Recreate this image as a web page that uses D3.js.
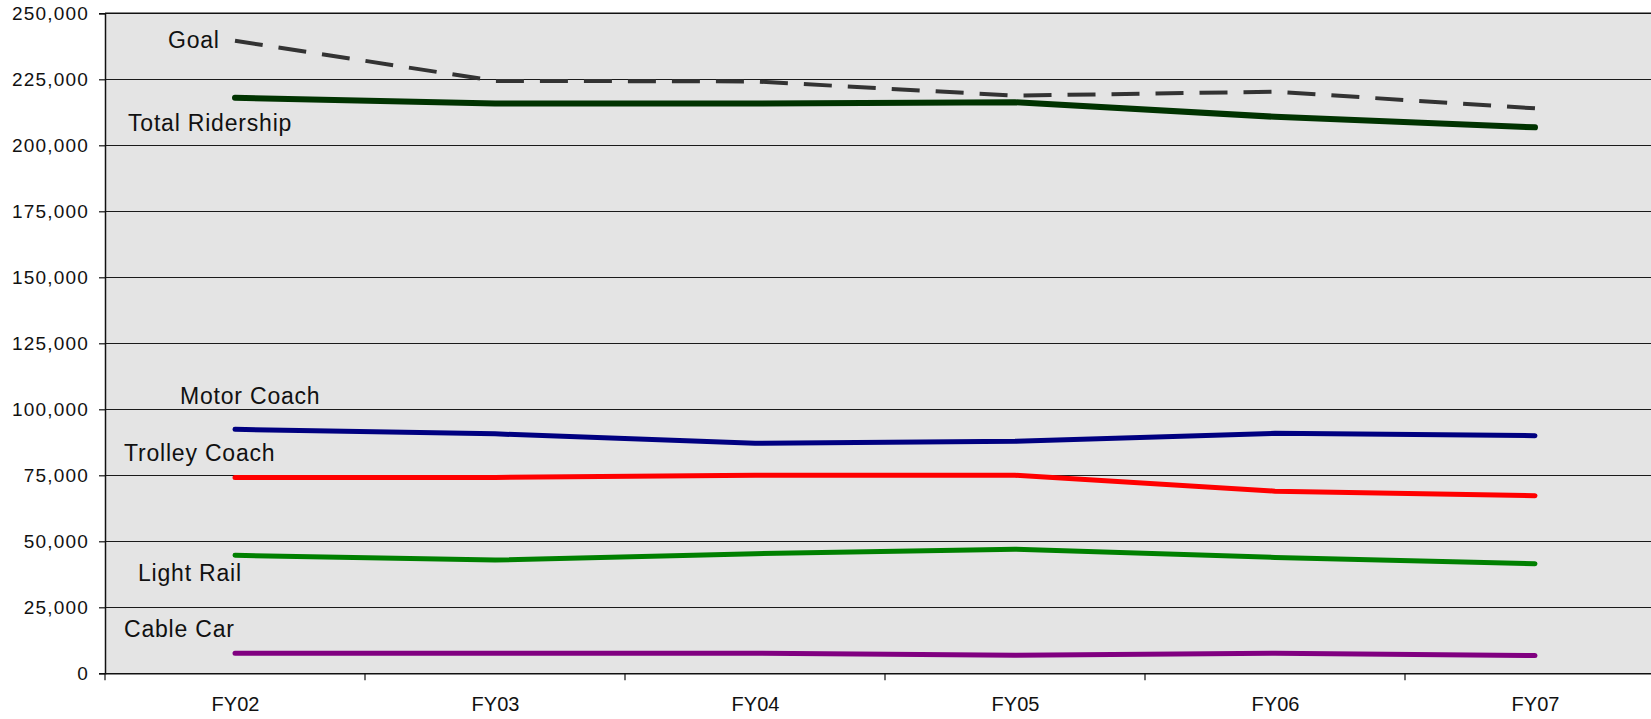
<!DOCTYPE html>
<html>
<head>
<meta charset="utf-8">
<script src="https://cdn.jsdelivr.net/npm/d3@7"></script>
<style>
  html, body { margin: 0; padding: 0; background: #fff; }
  svg { display: block; overflow: hidden; }
  text { font-family: "Liberation Sans", Arial, sans-serif; fill: #111; }
</style>
</head>
<body>
<svg id="chart" width="1651" height="719"></svg>
<script>
// Fiscal years on the x axis
const categories = ["FY02", "FY03", "FY04", "FY05", "FY06", "FY07"];

// Weekday ridership by mode
const goal      = [239600, 224400, 224200, 218800, 220300, 214000];
const total     = [218000, 215800, 215800, 216300, 210800, 206800];
const motor     = [92400, 90700, 87100, 87900, 90900, 90000];
const trolley   = [74200, 74200, 75000, 75000, 69000, 67300];
const lightRail = [44700, 42900, 45300, 47000, 43900, 41500];
const cableCar  = [7600, 7600, 7600, 6800, 7600, 6700];

// Y axis ticks
const yTicks = [0, 25000, 50000, 75000, 100000, 125000, 150000, 175000, 200000, 225000, 250000];

const series = [
  { name: "Goal",            values: goal,      color: "#333333", width: 4,   dash: "28,16", lx: 168, ly: 48 },
  { name: "Total Ridership", values: total,     color: "#003300", width: 6,   dash: null,    lx: 128, ly: 131 },
  { name: "Motor Coach",     values: motor,     color: "#000080", width: 5,   dash: null,    lx: 180, ly: 404 },
  { name: "Trolley Coach",   values: trolley,   color: "#ff0000", width: 5,   dash: null,    lx: 124, ly: 461 },
  { name: "Light Rail",      values: lightRail, color: "#008000", width: 5,   dash: null,    lx: 138, ly: 581 },
  { name: "Cable Car",       values: cableCar,  color: "#800080", width: 5,   dash: null,    lx: 124, ly: 637 }
];

const svg = d3.select("#chart");
const plot = { left: 105, right: 1665, top: 13.3, bottom: 673.3 };

const x = d3.scalePoint().domain(categories).range([plot.left, plot.right]).padding(0.5);
const xBand = d3.scaleBand().domain(categories).range([plot.left, plot.right]);
const y = d3.scaleLinear().domain([0, 250000]).range([plot.bottom, plot.top]);

// plot area background
svg.append("rect")
  .attr("x", plot.left).attr("y", plot.top)
  .attr("width", plot.right - plot.left).attr("height", plot.bottom - plot.top)
  .attr("fill", "#e4e4e4");

// horizontal gridlines
svg.append("g")
  .selectAll("line")
  .data(yTicks)
  .join("line")
  .attr("x1", plot.left).attr("x2", plot.right)
  .attr("y1", d => y(d)).attr("y2", d => y(d))
  .attr("stroke", "#1a1a1a").attr("stroke-width", 1.2)
  .attr("shape-rendering", "crispEdges");

// y axis
const yAxis = svg.append("g")
  .attr("transform", `translate(${plot.left},0)`)
  .call(d3.axisLeft(y).tickValues(yTicks).tickFormat(d3.format(",")).tickSize(6).tickPadding(10));
yAxis.select(".domain").attr("stroke", "#111").attr("stroke-width", 1.5);
yAxis.selectAll(".tick line").attr("stroke", "#111").attr("stroke-width", 1.2);
yAxis.selectAll(".tick text")
  .attr("font-size", 19).attr("letter-spacing", "1.2px")
  .style("font-family", "'Liberation Sans', Arial, sans-serif").attr("fill", "#111");

// x axis with ticks on band boundaries
const xAxis = svg.append("g")
  .attr("transform", `translate(0,${plot.bottom})`)
  .call(d3.axisBottom(x).tickSize(0).tickPadding(24));
xAxis.select(".domain").attr("stroke", "#111").attr("stroke-width", 1.5);
xAxis.selectAll(".tick text")
  .attr("font-size", 20)
  .style("font-family", "'Liberation Sans', Arial, sans-serif").attr("fill", "#111");
xAxis.selectAll(".bound")
  .data(categories.map(c => xBand(c)))
  .join("line")
  .attr("class", "bound")
  .attr("x1", d => d).attr("x2", d => d)
  .attr("y1", 0).attr("y2", 7)
  .attr("stroke", "#111").attr("stroke-width", 1.2);

// top border
svg.append("line")
  .attr("x1", plot.left).attr("x2", plot.right)
  .attr("y1", plot.top).attr("y2", plot.top)
  .attr("stroke", "#111").attr("stroke-width", 1.5);

// series lines
const line = d3.line()
  .x((d, i) => x(categories[i]))
  .y(d => y(d));

svg.append("g")
  .selectAll("path")
  .data(series.slice().reverse())
  .join("path")
  .attr("d", s => line(s.values))
  .attr("fill", "none")
  .attr("stroke", s => s.color)
  .attr("stroke-width", s => s.width)
  .attr("stroke-linecap", s => s.dash ? "butt" : "round")
  .attr("stroke-linejoin", "round")
  .attr("stroke-dasharray", s => s.dash);

// series labels
svg.append("g")
  .selectAll("text")
  .data(series)
  .join("text")
  .attr("x", s => s.lx).attr("y", s => s.ly)
  .attr("font-size", 23)
  .attr("letter-spacing", "0.8px")
  .text(s => s.name);
</script>
</body>
</html>
